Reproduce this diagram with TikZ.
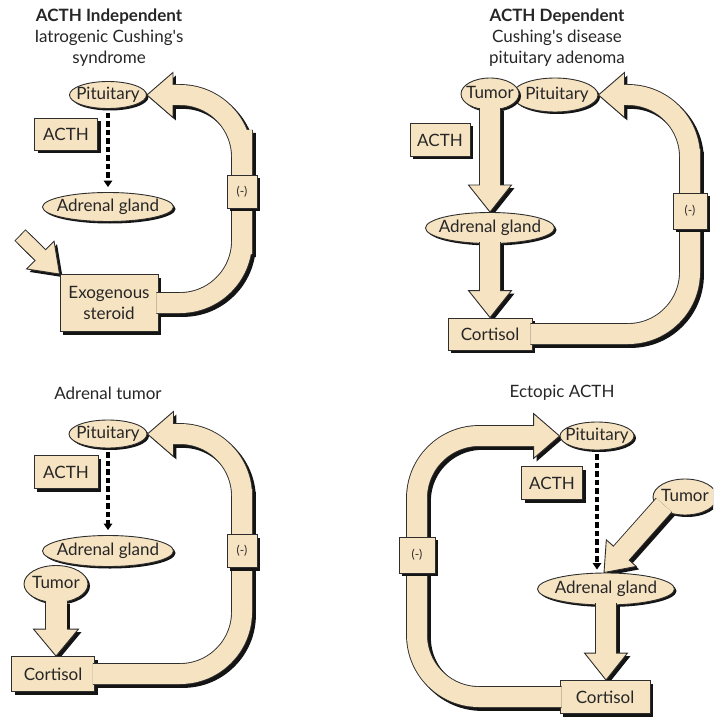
\documentclass[tikz,border=0pt]{standalone}
\usepackage{fontspec}
\setmainfont{Lato}
\usetikzlibrary{calc,shapes.geometric,shadows,arrows.meta}
\definecolor{cream}{HTML}{F6E3C2}
\definecolor{edgec}{HTML}{2E2E2E}
\definecolor{shadowc}{HTML}{141414}
\definecolor{inkc}{HTML}{262626}
\pgfdeclarelayer{shade}
\pgfsetlayers{shade,main}
\tikzset{
  txt/.style={font=\fontsize{17}{21}\selectfont, text=inkc},
  lbl/.style={txt, align=center, inner sep=0pt},
  oval/.style={txt, ellipse, draw=edgec, fill=cream, line width=0.9pt, inner sep=0pt,
    text height=12pt, text depth=3pt,
    drop shadow={shadow xshift=2pt, shadow yshift=-2pt, opacity=1, fill=shadowc}},
  boxn/.style={txt, rectangle, draw=edgec, fill=cream, line width=0.9pt, inner sep=0pt, align=center,
    drop shadow={shadow xshift=3pt, shadow yshift=-3pt, opacity=1, fill=shadowc}},
  minusbox/.style={boxn, font=\fontsize{12}{14}\selectfont},
  dashar/.style={draw=black, line width=3.2pt, dash pattern=on 5.5pt off 3pt,
    -{Triangle[length=6.5pt,width=8.5pt]}},
}
\newcommand\mkhead[4]{%
  \coordinate (tip) at #1;
  \coordinate (hb) at ($#1!#3pt!#2$);
  \coordinate (hb2) at ($#1!#3pt-2pt!#2$);
  \coordinate (h1) at ($(hb)!#4pt!90:(tip)$);
  \coordinate (h2) at ($(hb)!#4pt!-90:(tip)$);
}
\newcommand\fat[3][]{%
  \begin{pgfonlayer}{shade}
    \begin{scope}[transform canvas={xshift=3pt,yshift=-3pt}]
      \draw[shadowc, line width=#3pt+1.8pt, rounded corners=62pt] #2;
      \fill[shadowc] (h1) -- (tip) -- (h2) -- cycle;
    \end{scope}
  \end{pgfonlayer}
  \draw[edgec, line width=#3pt+1.8pt, rounded corners=62pt] #2;
  \filldraw[fill=cream, draw=edgec, line width=0.9pt, line join=miter] (h1) -- (tip) -- (h2) -- cycle;
  \draw[cream, line width=#3pt, rounded corners=62pt, #1] #2;
}
\begin{document}
\begin{tikzpicture}[x=1pt, y=-1pt]
\useasboundingbox (0,0) rectangle (713,719);
\clip (0,0) rectangle (713,719);

% ---------------- Panel 1: ACTH independent ----------------
\node[lbl] (t1) at (109,38) {\textbf{ACTH Independent}\\Iatrogenic Cushing\textquotesingle s\\syndrome};
\node[oval, minimum width=77pt, minimum height=27pt] (pit1) at (108,95) {\makebox[0pt]{Pituitary}};
\node[boxn, minimum width=63pt, minimum height=32pt] (acth1) at (66,134) {ACTH};
\node[oval, minimum width=131pt, minimum height=29pt] (adr1) at (108,207) {\makebox[0pt]{Adrenal gland}};
\node[boxn, minimum width=98pt, minimum height=57pt] (ster1) at (109,303) {Exogenous\\steroid};
\draw[dashar] ([yshift=-4pt]pit1.south) -- ([yshift=5pt]adr1.north);
\coordinate (d1) at (20,235);
\mkhead{(ster1.north west)}{(d1)}{27}{19.5}
\fat[shorten <=0.9pt]{(d1) -- (hb2)}{14}
\coordinate (m1) at (242,192);
\coordinate (k1) at (m1 |- pit1.east);
\mkhead{(pit1.east)}{(k1)}{26}{22.5}
\fat{([xshift=-2pt]ster1.east) -| (m1) |- (hb2)}{20}
\node[minusbox, minimum width=30pt, minimum height=33pt] (minus1) at (m1) {(-)};

% ---------------- Panel 2: ACTH dependent ----------------
\node[lbl] (t2) at (557,38) {\textbf{ACTH Dependent}\\Cushing\textquotesingle s disease\\pituitary adenoma};
\node[oval, minimum width=86pt, minimum height=34pt] (pit2) at (555,95) {\makebox[0pt]{\hspace*{4pt}Pituitary}};
\node[oval, minimum width=58pt, minimum height=32pt] (tum2) at (490,94) {\makebox[0pt]{Tumor}};
\node[boxn, minimum width=60pt, minimum height=33pt] (acth2) at (440,140) {ACTH};
\node[oval, minimum width=129pt, minimum height=31pt] (adr2) at (490,228) {\makebox[0pt]{Adrenal gland}};
\node[boxn, minimum width=84pt, minimum height=32pt] (cort2) at (490,334) {Cortisol};
\mkhead{(adr2.north)}{(tum2.south)}{27}{21.5}
\fat{([yshift=2pt]tum2.south) -- (hb2)}{20}
\mkhead{(cort2.north)}{(adr2.south)}{27}{21.5}
\fat{([yshift=2pt]adr2.south) -- (hb2)}{20}
\coordinate (m2) at (690,211);
\coordinate (k2) at (m2 |- pit2.east);
\mkhead{(pit2.east)}{(k2)}{26}{22.5}
\fat{([xshift=-2pt]cort2.east) -| (m2) |- (hb2)}{20}
\node[minusbox, minimum width=34pt, minimum height=36pt] (minus2) at (m2) {(-)};

% ---------------- Panel 3: Adrenal tumor ----------------
\node[lbl] (t3) at (108,393) {Adrenal tumor};
\node[oval, minimum width=78pt, minimum height=28pt] (pit3) at (108,434) {\makebox[0pt]{Pituitary}};
\node[boxn, minimum width=64pt, minimum height=33pt] (acth3) at (66,472) {ACTH};
\node[oval, minimum width=131pt, minimum height=31pt] (adr3) at (108,551) {\makebox[0pt]{Adrenal gland}};
\node[oval, minimum width=64pt, minimum height=37pt] (tum3) at (56,584) {\makebox[0pt]{Tumor}};
\node[boxn, minimum width=83pt, minimum height=35pt] (cort3) at (53,674) {Cortisol};
\draw[dashar] ([yshift=-4pt]pit3.south) -- ([yshift=5pt]adr3.north);
\coordinate (c3) at (tum3.south |- cort3.north);
\mkhead{(c3)}{(tum3.south)}{27}{22.5}
\fat{([yshift=2pt]tum3.south) -- (hb2)}{21}
\coordinate (m3) at (242,551);
\coordinate (k3) at (m3 |- pit3.east);
\mkhead{(pit3.east)}{(k3)}{26}{22.5}
\fat{([xshift=-2pt]cort3.east) -| (m3) |- (hb2)}{20}
\node[minusbox, minimum width=30pt, minimum height=33pt] (minus3) at (m3) {(-)};

% ---------------- Panel 4: Ectopic ACTH ----------------
\node[lbl] (t4) at (562,393) {Ectopic ACTH};
\node[oval, minimum width=74pt, minimum height=28pt] (pit4) at (597,436) {\makebox[0pt]{Pituitary}};
\node[boxn, minimum width=61pt, minimum height=33pt] (acth4) at (552,483) {ACTH};
\node[oval, minimum width=64pt, minimum height=36pt] (tum4) at (685,497) {\makebox[0pt]{Tumor}};
\node[oval, minimum width=137pt, minimum height=32pt] (adr4) at (606,589) {\makebox[0pt]{Adrenal gland}};
\node[boxn, minimum width=90pt, minimum height=33pt] (cort4) at (605,697) {Cortisol};
\coordinate (e4) at (pit4.south |- adr4.north);
\draw[dashar] ([yshift=-4pt]pit4.south) -- ([yshift=3pt]e4);
\coordinate (s4) at ($(tum4.center)+(-21,8)$);
\coordinate (a4) at ([xshift=-2pt]adr4.north);
\mkhead{(a4)}{(s4)}{26}{20}
\fat{(s4) -- (hb2)}{20}
\coordinate (c4) at (adr4.south |- cort4.north);
\mkhead{(c4)}{(adr4.south)}{27}{21.5}
\fat{([yshift=2pt]adr4.south) -- (hb2)}{20}
\coordinate (m4) at (417,555);
\coordinate (k4) at (m4 |- pit4.west);
\mkhead{(pit4.west)}{(k4)}{26}{22.5}
\fat{([xshift=2pt]cort4.west) -| (m4) |- (hb2)}{20}
\node[minusbox, minimum width=36pt, minimum height=36pt] (minus4) at (m4) {(-)};
\end{tikzpicture}
\end{document}
